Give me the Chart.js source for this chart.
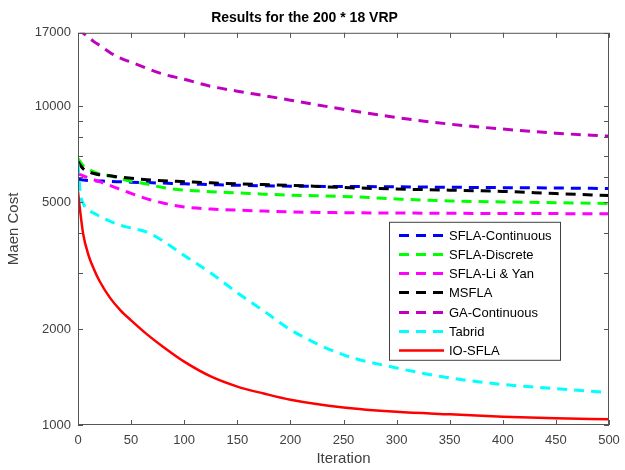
<!DOCTYPE html>
<html>
<head>
<meta charset="utf-8">
<script src="https://cdn.jsdelivr.net/npm/chart.js@4/dist/chart.umd.min.js"></script>
<style>
  html, body { margin: 0; padding: 0; background: #fff; }
</style>
</head>
<body>
<canvas id="costChart" width="625" height="470"></canvas>
<script>
// sampled iterations shared by every run
const iterations = [0, 2, 5, 10, 15, 20, 30, 40, 50, 65, 80, 100, 125, 150, 175, 200, 250, 300, 350, 400, 450, 500];

const sflaContinuous = [5900, 5890, 5870, 5850, 5840, 5830, 5810, 5795, 5780, 5760, 5740, 5710, 5680, 5650, 5630, 5615, 5600, 5590, 5570, 5555, 5540, 5520];
const sflaDiscrete   = [6850, 6700, 6500, 6350, 6230, 6150, 6050, 5930, 5820, 5700, 5560, 5460, 5395, 5350, 5300, 5260, 5215, 5120, 5045, 5010, 4980, 4955];
const sflaLiYan      = [6150, 6100, 6050, 5960, 5880, 5800, 5650, 5480, 5330, 5120, 4970, 4830, 4760, 4720, 4690, 4660, 4635, 4625, 4615, 4610, 4605, 4600];
const msfla          = [6700, 6550, 6360, 6230, 6150, 6100, 6050, 5990, 5945, 5885, 5840, 5800, 5750, 5710, 5680, 5650, 5560, 5500, 5455, 5405, 5320, 5245];
const gaContinuous   = [17500, 17250, 16950, 16450, 15950, 15550, 14750, 14150, 13750, 13150, 12620, 12150, 11550, 11150, 10800, 10450, 9780, 9220, 8790, 8480, 8230, 8060];
const tabrid         = [6600, 5400, 4950, 4720, 4620, 4520, 4360, 4230, 4150, 4030, 3780, 3400, 3000, 2600, 2280, 1990, 1660, 1510, 1405, 1340, 1300, 1265];
const ioSfla         = [5400, 4700, 3950, 3400, 3080, 2840, 2510, 2290, 2130, 1925, 1760, 1580, 1420, 1320, 1255, 1200, 1135, 1100, 1080, 1062, 1050, 1043];

const xTickValues = [0, 50, 100, 150, 200, 250, 300, 350, 400, 450, 500];
const yTickValues = [1000, 2000, 3000, 4000, 5000, 6000, 7000, 8000, 9000, 10000, 17000];
const yTickLabels = [1000, 2000, 5000, 10000, 17000];

const FONT = '"Liberation Sans", Arial, Helvetica, sans-serif';
Chart.defaults.font.family = FONT;

const toPoints = vals => vals.map((v, i) => ({ x: iterations[i], y: v }));

function series(label, vals, color, dashed) {
  return {
    label,
    data: toPoints(vals),
    borderColor: color,
    backgroundColor: color,
    borderWidth: dashed ? 3 : 2.5,
    borderDash: dashed ? [10, 7] : [],
    pointRadius: 0,
    fill: false,
    cubicInterpolationMode: 'monotone'
  };
}

const datasets = [
  series('SFLA-Continuous', sflaContinuous, '#0000ff', true),
  series('SFLA-Discrete', sflaDiscrete, '#00ff00', true),
  series('SFLA-Li & Yan', sflaLiYan, '#ff00ff', true),
  series('MSFLA', msfla, '#000000', true),
  series('GA-Continuous', gaContinuous, '#bf00bf', true),
  series('Tabrid', tabrid, '#00ffff', true),
  series('IO-SFLA', ioSfla, '#ff0000', false)
];
// later series are drawn over earlier ones
datasets.forEach((ds, i) => { ds.order = datasets.length - i; });

// box around the plot with inward tick marks on all four sides
const axisFrame = {
  id: 'axisFrame',
  afterDatasetsDraw(chart) {
    const { ctx, chartArea: a, scales } = chart;
    ctx.save();
    ctx.strokeStyle = '#555';
    ctx.lineWidth = 1;
    ctx.setLineDash([]);
    ctx.beginPath();
    xTickValues.forEach(v => {
      const px = Math.round(scales.x.getPixelForValue(v)) + 0.5;
      ctx.moveTo(px, a.bottom); ctx.lineTo(px, a.bottom - 5);
      ctx.moveTo(px, a.top); ctx.lineTo(px, a.top + 5);
    });
    yTickValues.forEach(v => {
      const py = Math.round(scales.y.getPixelForValue(v)) + 0.5;
      ctx.moveTo(a.left, py); ctx.lineTo(a.left + 5, py);
      ctx.moveTo(a.right, py); ctx.lineTo(a.right - 5, py);
    });
    ctx.stroke();
    ctx.strokeRect(a.left + 0.5, a.top + 0.5, a.width - 1, a.height - 1);
    ctx.restore();
  }
};

// legend box inside the plot, right of centre
const boxLegend = {
  id: 'boxLegend',
  afterDraw(chart) {
    const { ctx, chartArea: a } = chart;
    const left = a.right - 220, top = a.top + 189, w = 171, h = 138;
    ctx.save();
    ctx.fillStyle = '#fff';
    ctx.fillRect(left, top, w, h);
    ctx.strokeStyle = '#404040';
    ctx.lineWidth = 1;
    ctx.strokeRect(left + 0.5, top + 0.5, w, h);
    ctx.font = '13px ' + FONT;
    ctx.textBaseline = 'middle';
    chart.data.datasets.forEach((ds, i) => {
      const y = Math.round(top + 13 + i * 19.2) + 0.5;
      ctx.beginPath();
      ctx.setLineDash(ds.borderDash);
      ctx.strokeStyle = ds.borderColor;
      ctx.lineWidth = ds.borderWidth;
      ctx.moveTo(left + 10, y);
      ctx.lineTo(left + 55, y);
      ctx.stroke();
      ctx.setLineDash([]);
      ctx.fillStyle = '#000';
      ctx.fillText(ds.label, left + 60, y + 1);
    });
    ctx.restore();
  }
};

new Chart(document.getElementById('costChart'), {
  type: 'line',
  data: { datasets },
  options: {
    responsive: false,
    animation: false,
    devicePixelRatio: 1,
    layout: { padding: { left: 0, right: 16, top: 0, bottom: 0 } },
    plugins: {
      legend: { display: false },
      tooltip: { enabled: false },
      title: {
        display: true,
        text: 'Results for the 200 * 18 VRP',
        color: '#000',
        font: { size: 14, weight: 'bold' },
        padding: { top: 10, bottom: 6 }
      }
    },
    scales: {
      x: {
        type: 'linear',
        min: 0,
        max: 500,
        grid: { display: false, drawTicks: false },
        border: { display: false },
        afterBuildTicks: s => { s.ticks = xTickValues.map(v => ({ value: v })); },
        afterFit: s => { s.height = 45; s.paddingLeft = 0; s.paddingRight = 0; },
        ticks: { color: '#404040', font: { size: 13 }, padding: 8, maxRotation: 0, autoSkip: false },
        title: { display: true, text: 'Iteration', color: '#404040', font: { size: 15 }, padding: { top: 0, bottom: 2 } }
      },
      y: {
        type: 'logarithmic',
        min: 1000,
        max: 17000,
        grid: { display: false, drawTicks: false },
        border: { display: false },
        afterBuildTicks: s => { s.ticks = yTickValues.map(v => ({ value: v })); },
        afterFit: s => { s.width = 78; s.paddingTop = 0; s.paddingBottom = 0; },
        ticks: {
          color: '#404040',
          font: { size: 13 },
          padding: 7,
          autoSkip: false,
          callback: v => yTickLabels.includes(v) ? String(v) : ''
        },
        title: { display: true, text: 'Maen Cost', color: '#404040', font: { size: 15 }, padding: { top: 5, bottom: 0 } }
      }
    }
  },
  plugins: [axisFrame, boxLegend]
});
</script>
</body>
</html>
